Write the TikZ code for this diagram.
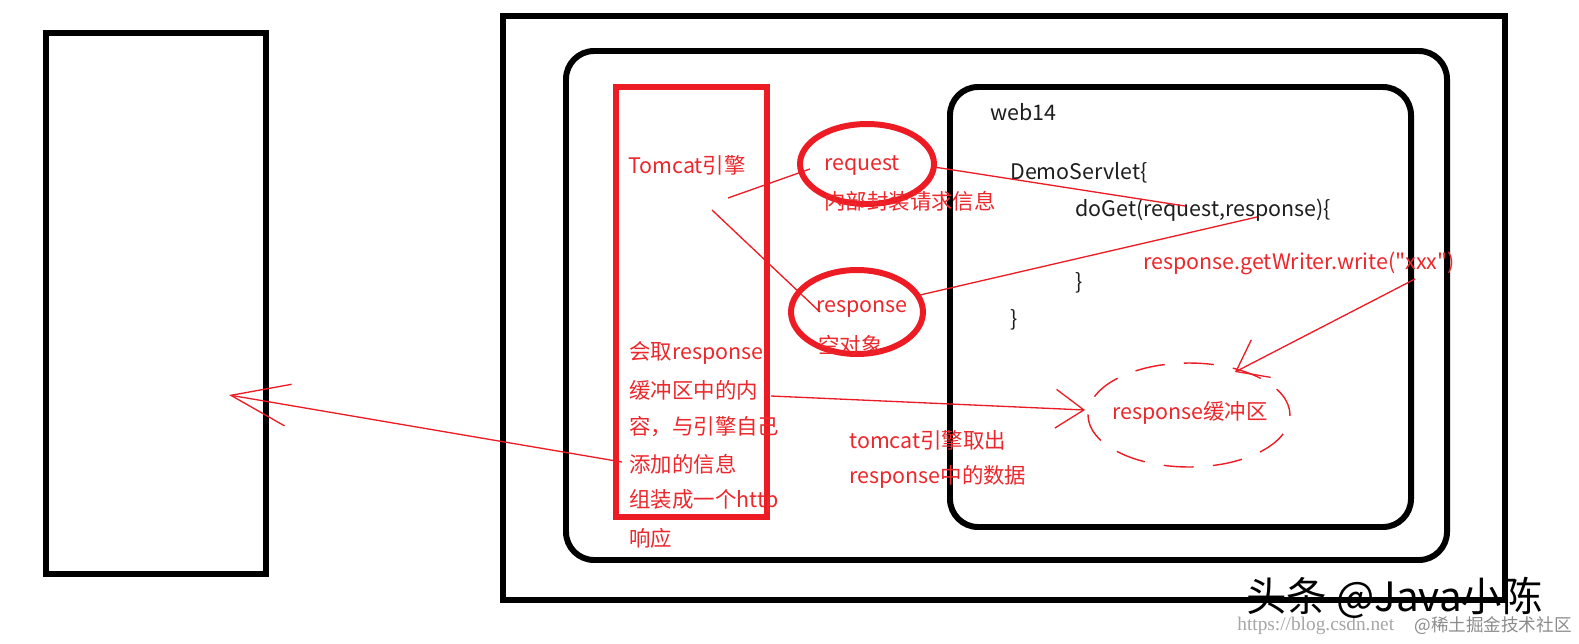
\documentclass[tikz,border=0pt]{standalone}
\usepackage{fontspec}
\setmainfont{Noto Sans CJK SC}
\newfontfamily\plainq{Noto Sans CJK SC}
\newfontfamily\wmserif{Liberation Serif}
\usetikzlibrary{arrows.meta,shapes.geometric}
\definecolor{pred}{RGB}{237,28,36}
\definecolor{tred}{RGB}{236,40,44}
\definecolor{tblk}{RGB}{30,30,30}
\begin{document}
\begin{tikzpicture}[x=0.02cm,y=-0.02cm,
  blk/.style={draw=black, line width=3.4pt},
  redframe/.style={draw=pred, line width=3.4pt},
  rt/.style={text=tred, inner sep=0pt, font=\fontsize{12.2}{14}\selectfont},
  bt/.style={text=tblk, inner sep=0pt, font=\fontsize{12.2}{14}\selectfont},
  ell/.style={draw=pred, ellipse, line width=3.4pt, inner sep=0pt},
  thinred/.style={draw=pred, line width=0.75pt},
  dashell/.style={draw=pred, ellipse, line width=0.8pt, dash pattern=on 17pt off 11pt, inner sep=0pt}
]
\useasboundingbox (0,0) rectangle (1579,643);
\fill[white] (0,0) rectangle (1579,643);

% boxes
\draw[blk] (46,33) rectangle (266,574);
\draw[blk] (503,16) rectangle (1505,600);
\draw[blk, rounded corners=16pt] (566,51) rectangle (1447,560);
\draw[blk, rounded corners=16pt] (950,87) rectangle (1411,527);
\draw[redframe] (616,87) rectangle (767,517);

% circles
\node[ell, minimum width=2.68cm, minimum height=1.6cm] (req) at (867,164) {};
\node[ell, minimum width=2.64cm, minimum height=1.68cm] (resp) at (857,312) {};
\node[dashell, minimum width=4.04cm, minimum height=2.08cm] (buf) at (1189,415) {};

% red texts
\node[rt, anchor=west] (tomcat) at (628,165) {Tomcat引擎};
\node[rt] (reqt) at (862,165) {request};
\node[rt, anchor=west] (reqinfo) at (824,201) {内部封装请求信息};
\node[rt] (respt) at (862,309) {response};
\node[rt, anchor=west] (empty) at (818,345) {空对象};
\node[rt, anchor=west] (l1) at (629,353) {会取response};
\node[rt, anchor=west] (l2) at (629,390) {缓冲区中的内};
\node[rt, anchor=west] (l3) at (629,427) {容，与引擎自己};
\node[rt, anchor=west] (l4) at (629,464) {添加的信息};
\node[rt, anchor=west] (l5) at (629,501) {组装成一个http};
\node[rt, anchor=west] (l6) at (629,538) {响应};
\node[rt, anchor=west] (take1) at (849,440) {tomcat引擎取出};
\node[rt, anchor=west] (take2) at (849,477) {response中的数据};
\node[rt, anchor=west] (write) at (1143,263) {\plainq response.getWriter.write("xxx")};
\node[rt] (buft) at (1190,413) {response缓冲区};

% black texts
\node[bt, anchor=west] (web) at (990,112) {web14};
\node[bt, anchor=west] (demo) at (1010,173) {DemoServlet\{};
\node[bt, anchor=west] (doget) at (1075,210) {doGet(request,response)\{};
\node[bt, anchor=west] (br1) at (1075,283) {\}};
\node[bt, anchor=west] (br2) at (1010,320) {\}};

% connector end points
\coordinate (a1) at (728,198);
\coordinate (a2) at (810,169);
\coordinate (b1) at (712,210);
\coordinate (b2) at (820,312);
\coordinate (c1) at (934,167);
\coordinate (c2) at (1185,206);
\coordinate (d1) at (920,295);
\coordinate (d2) at (1257,217);
\coordinate (e1) at (1415,279);
\coordinate (e2) at (1235,372);
\coordinate (f1) at (771,396);
\coordinate (f2) at (1085,410);
\coordinate (g1) at (622,462);
\coordinate (g2) at (229,395);

% connectors
\draw[thinred] (a1) -- (a2);
\draw[thinred] (b1) -- (b2);
\draw[thinred] (c1) -- (c2);
\draw[thinred] (d1) -- (d2);
\draw[thinred, -{Straight Barb[length=16pt, width=24pt]}] (e1) -- (e2);
\draw[thinred, -{Straight Barb[length=16pt, width=22pt]}] (f1) -- (f2);
\draw[thinred, -{Straight Barb[length=33pt, width=24pt]}] (g1) -- (g2);

% watermarks
\node[anchor=west, inner sep=0pt, text=black!35, font=\wmserif\fontsize{11}{12}\selectfont] (wm1) at (1237,626) {https://blog.csdn.net};
\node[anchor=east, inner sep=0pt, text=black!45, font=\fontsize{10}{12}\selectfont] (wm2) at (1572,626) {@稀土掘金技术社区};
\node[anchor=west, inner sep=0pt, text=black, font=\fontsize{23}{26}\selectfont] (wm3) at (1246,598) {头条 @Java小陈};
\end{tikzpicture}
\end{document}
